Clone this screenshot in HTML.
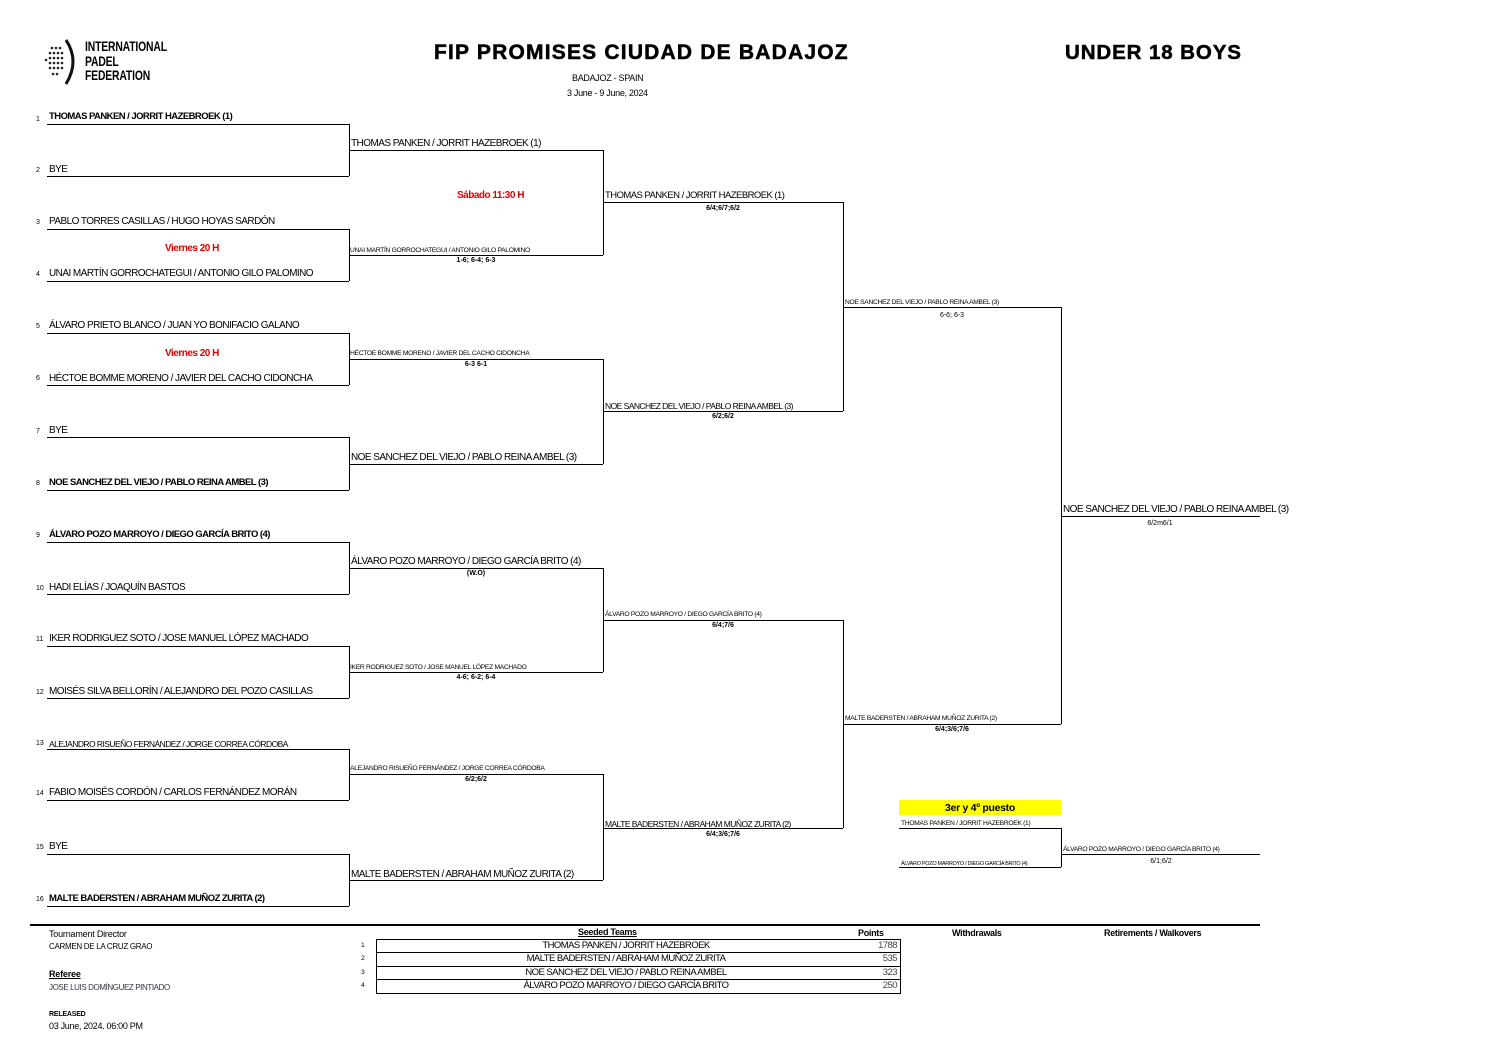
<!DOCTYPE html>
<html><head><meta charset="utf-8"><style>
body{margin:0;background:#fff;width:1497px;height:1058px;position:relative;overflow:hidden;font-family:"Liberation Sans",Arial,sans-serif;color:#000}
.h{position:absolute;height:0;border-top:1px solid #000}
.v{position:absolute;width:0;border-left:1px solid #000}
.t{position:absolute;white-space:nowrap;font-size:10px;line-height:12px;letter-spacing:-0.55px}
.s{position:absolute;white-space:nowrap;font-size:6.7px;line-height:8px;letter-spacing:-0.3px}
.n{position:absolute;font-size:7px;left:36px}
.c{position:absolute;font-size:7px;font-weight:bold;text-align:center;width:120px}
.b{font-weight:bold}
.r{position:absolute;color:#e00000;font-weight:bold;font-size:10px;letter-spacing:-0.5px}
</style></head><body>
<!-- header -->
<div style="position:absolute;left:44px;top:38px;width:34px;height:46px">
<svg width="36" height="48"><g fill="#222"><circle cx="8" cy="10" r="1.3"/><circle cx="12" cy="10" r="1.3"/><circle cx="16" cy="10" r="1.3"/><circle cx="6" cy="15" r="1.3"/><circle cx="10" cy="15" r="1.3"/><circle cx="14" cy="15" r="1.3"/><circle cx="18" cy="15" r="1.3"/><circle cx="6" cy="20" r="1.3"/><circle cx="10" cy="20" r="1.3"/><circle cx="14" cy="20" r="1.3"/><circle cx="18" cy="20" r="1.3"/><circle cx="6" cy="25" r="1.3"/><circle cx="10" cy="25" r="1.3"/><circle cx="14" cy="25" r="1.3"/><circle cx="18" cy="25" r="1.3"/><circle cx="6" cy="30" r="1.3"/><circle cx="10" cy="30" r="1.3"/><circle cx="14" cy="30" r="1.3"/><circle cx="18" cy="30" r="1.3"/><circle cx="9" cy="36" r="1.3"/><circle cx="13" cy="36" r="1.3"/><circle cx="2" cy="22" r="1.3"/></g><path d="M22 2 Q36 23 22 46" stroke="#111" stroke-width="3" fill="none"/></svg></div>
<div style="position:absolute;left:85px;top:39px;font-size:14px;line-height:14.5px;font-weight:bold;transform:scaleX(0.74);transform-origin:left;letter-spacing:-0.2px">INTERNATIONAL<br>PADEL<br>FEDERATION</div>
<div style="position:absolute;left:434px;top:41px;font-size:21px;font-weight:bold;letter-spacing:1.2px;-webkit-text-stroke:0.5px #000">FIP PROMISES CIUDAD DE BADAJOZ</div>
<div style="position:absolute;left:1065px;top:41px;font-size:20.5px;font-weight:bold;letter-spacing:0.9px;-webkit-text-stroke:0.5px #000">UNDER 18 BOYS</div>
<div class="t" style="left:572px;top:72px;font-size:9px;letter-spacing:-0.3px">BADAJOZ - SPAIN</div>
<div class="t" style="left:567px;top:87px;font-size:9px;letter-spacing:-0.3px">3 June - 9 June, 2024</div>

<!-- round 1 lines -->
<div class="h" style="left:47px;width:302px;top:124px"></div>
<div class="h" style="left:47px;width:302px;top:176px"></div>
<div class="h" style="left:47px;width:302px;top:229px"></div>
<div class="h" style="left:47px;width:302px;top:281px"></div>
<div class="h" style="left:47px;width:302px;top:333px"></div>
<div class="h" style="left:47px;width:302px;top:385px"></div>
<div class="h" style="left:47px;width:302px;top:437px"></div>
<div class="h" style="left:47px;width:302px;top:490px"></div>
<div class="h" style="left:47px;width:302px;top:542px"></div>
<div class="h" style="left:47px;width:302px;top:594px"></div>
<div class="h" style="left:47px;width:302px;top:646px"></div>
<div class="h" style="left:47px;width:302px;top:698px"></div>
<div class="h" style="left:47px;width:302px;top:749px"></div>
<div class="h" style="left:47px;width:302px;top:800px"></div>
<div class="h" style="left:47px;width:302px;top:854px"></div>
<div class="h" style="left:47px;width:302px;top:906px"></div>
<div class="v" style="left:349px;top:124px;height:52px"></div>
<div class="v" style="left:349px;top:229px;height:52px"></div>
<div class="v" style="left:349px;top:333px;height:52px"></div>
<div class="v" style="left:349px;top:437px;height:53px"></div>
<div class="v" style="left:349px;top:542px;height:52px"></div>
<div class="v" style="left:349px;top:646px;height:52px"></div>
<div class="v" style="left:349px;top:749px;height:51px"></div>
<div class="v" style="left:349px;top:854px;height:52px"></div>

<div class="n" style="top:116px">1</div><div class="t b" style="left:49px;top:111px;font-size:9.5px">THOMAS PANKEN / JORRIT HAZEBROEK (1)</div>
<div class="n" style="top:167px">2</div><div class="t" style="left:49px;top:164px">BYE</div>
<div class="n" style="top:219px">3</div><div class="t" style="left:49px;top:216px">PABLO TORRES CASILLAS / HUGO HOYAS SARDÓN</div>
<div class="n" style="top:271px">4</div><div class="t" style="left:49px;top:268px">UNAI MARTÍN GORROCHATEGUI / ANTONIO GILO PALOMINO</div>
<div class="n" style="top:323px">5</div><div class="t" style="left:49px;top:320px">ÁLVARO PRIETO BLANCO / JUAN YO BONIFACIO GALANO</div>
<div class="n" style="top:375px">6</div><div class="t" style="left:49px;top:373px">HÉCTOE BOMME MORENO / JAVIER DEL CACHO CIDONCHA</div>
<div class="n" style="top:428px">7</div><div class="t" style="left:49px;top:425px">BYE</div>
<div class="n" style="top:480px">8</div><div class="t b" style="left:49px;top:477px;font-size:9.5px">NOE SANCHEZ DEL VIEJO / PABLO REINA AMBEL (3)</div>
<div class="n" style="top:532px">9</div><div class="t b" style="left:49px;top:529px;font-size:9.5px">ÁLVARO POZO MARROYO / DIEGO GARCÍA BRITO (4)</div>
<div class="n" style="top:585px">10</div><div class="t" style="left:49px;top:582px">HADI ELÍAS / JOAQUÍN BASTOS</div>
<div class="n" style="top:636px">11</div><div class="t" style="left:49px;top:633px">IKER RODRIGUEZ SOTO / JOSE MANUEL LÓPEZ MACHADO</div>
<div class="n" style="top:689px">12</div><div class="t" style="left:49px;top:686px">MOISÉS SILVA BELLORÍN / ALEJANDRO DEL POZO CASILLAS</div>
<div class="n" style="top:740px">13</div><div class="t" style="left:49px;top:738px;font-size:8.5px">ALEJANDRO RISUEÑO FERNÁNDEZ / JORGE CORREA CÓRDOBA</div>
<div class="n" style="top:790px">14</div><div class="t" style="left:49px;top:787px">FABIO MOISÉS CORDÓN / CARLOS FERNÁNDEZ MORÁN</div>
<div class="n" style="top:844px">15</div><div class="t" style="left:49px;top:841px">BYE</div>
<div class="n" style="top:896px">16</div><div class="t b" style="left:49px;top:893px;font-size:9.5px">MALTE BADERSTEN / ABRAHAM MUÑOZ ZURITA (2)</div>

<div class="r" style="left:165px;top:243px">Viernes 20 H</div>
<div class="r" style="left:165px;top:348px">Viernes 20 H</div>
<div class="r" style="left:457px;top:190px">Sábado 11:30 H</div>

<!-- round 2 -->
<div class="h" style="left:349px;width:254px;top:150px"></div>
<div class="h" style="left:349px;width:254px;top:255px"></div>
<div class="h" style="left:349px;width:254px;top:359px"></div>
<div class="h" style="left:349px;width:254px;top:464px"></div>
<div class="h" style="left:349px;width:254px;top:568px"></div>
<div class="h" style="left:349px;width:254px;top:672px"></div>
<div class="h" style="left:349px;width:254px;top:774px"></div>
<div class="h" style="left:349px;width:254px;top:880px"></div>
<div class="v" style="left:603px;top:150px;height:105px"></div>
<div class="v" style="left:603px;top:359px;height:105px"></div>
<div class="v" style="left:603px;top:568px;height:104px"></div>
<div class="v" style="left:603px;top:774px;height:106px"></div>
<div class="t" style="left:351px;top:138px">THOMAS PANKEN / JORRIT HAZEBROEK (1)</div>
<div class="s" style="left:350px;top:247px">UNAI MARTÍN GORROCHATEGUI / ANTONIO GILO PALOMINO</div>
<div class="c" style="left:416px;top:257px">1-6; 6-4; 6-3</div>
<div class="s" style="left:350px;top:350px">HÉCTOE BOMME MORENO / JAVIER DEL CACHO CIDONCHA</div>
<div class="c" style="left:416px;top:361px">6-3 6-1</div>
<div class="t" style="left:351px;top:452px">NOE SANCHEZ DEL VIEJO / PABLO REINA AMBEL (3)</div>
<div class="t" style="left:351px;top:556px">ÁLVARO POZO MARROYO / DIEGO GARCÍA BRITO (4)</div>
<div class="c" style="left:416px;top:570px">(W.O)</div>
<div class="s" style="left:350px;top:664px">IKER RODRIGUEZ SOTO / JOSE MANUEL LÓPEZ MACHADO</div>
<div class="c" style="left:416px;top:674px">4-6; 6-2; 6-4</div>
<div class="s" style="left:350px;top:765px">ALEJANDRO RISUEÑO FERNÁNDEZ / JORGE CORREA CÓRDOBA</div>
<div class="c" style="left:416px;top:776px">6/2;6/2</div>
<div class="t" style="left:351px;top:869px">MALTE BADERSTEN / ABRAHAM MUÑOZ ZURITA (2)</div>

<!-- round 3 -->
<div class="h" style="left:603px;width:240px;top:202px"></div>
<div class="h" style="left:603px;width:240px;top:411px"></div>
<div class="h" style="left:603px;width:240px;top:620px"></div>
<div class="h" style="left:603px;width:240px;top:828px"></div>
<div class="v" style="left:843px;top:202px;height:209px"></div>
<div class="v" style="left:843px;top:620px;height:208px"></div>
<div class="t" style="left:605px;top:190px;font-size:9.5px">THOMAS PANKEN / JORRIT HAZEBROEK (1)</div>
<div class="c" style="left:663px;top:205px">6/4;6/7;6/2</div>
<div class="t" style="left:605px;top:400px;font-size:8.5px">NOE SANCHEZ DEL VIEJO / PABLO REINA AMBEL (3)</div>
<div class="c" style="left:663px;top:413px">6/2;6/2</div>
<div class="s" style="left:605px;top:611px">ÁLVARO POZO MARROYO / DIEGO GARCÍA BRITO (4)</div>
<div class="c" style="left:663px;top:622px">6/4;7/6</div>
<div class="t" style="left:605px;top:818px;font-size:8.5px">MALTE BADERSTEN / ABRAHAM MUÑOZ ZURITA (2)</div>
<div class="c" style="left:663px;top:831px">6/4;3/6;7/6</div>

<!-- semis -->
<div class="h" style="left:843px;width:218px;top:307px"></div>
<div class="h" style="left:843px;width:218px;top:724px"></div>
<div class="v" style="left:1061px;top:307px;height:417px"></div>
<div class="s" style="left:845px;top:299px">NOE SANCHEZ DEL VIEJO / PABLO REINA AMBEL (3)</div>
<div class="c" style="left:892px;top:312px;font-weight:normal">6-6; 6-3</div>
<div class="s" style="left:845px;top:715px">MALTE BADERSTEN / ABRAHAM MUÑOZ ZURITA (2)</div>
<div class="c" style="left:892px;top:726px">6/4;3/6;7/6</div>

<!-- final -->
<div class="h" style="left:1061px;width:199px;top:516px"></div>
<div class="t" style="left:1063px;top:504px">NOE SANCHEZ DEL VIEJO / PABLO REINA AMBEL (3)</div>
<div class="c" style="left:1100px;top:520px;font-weight:normal">6/2m6/1</div>

<!-- 3rd place -->
<div style="position:absolute;left:899px;top:800px;width:162px;height:15px;background:#ffff00;font-size:10.5px;font-weight:bold;text-align:center;line-height:16px;letter-spacing:-0.3px">3er y 4º puesto</div>
<div class="h" style="left:899px;width:162px;top:828px"></div>
<div class="h" style="left:899px;width:162px;top:867px"></div>
<div class="v" style="left:1061px;top:828px;height:39px"></div>
<div class="h" style="left:1061px;width:199px;top:854px"></div>
<div class="s" style="left:901px;top:820px">THOMAS PANKEN / JORRIT HAZEBROEK (1)</div>
<div class="s" style="left:901px;top:860px;font-size:5.5px">ÁLVARO POZO MARROYO / DIEGO GARCÍA BRITO (4)</div>
<div class="s" style="left:1063px;top:846px">ÁLVARO POZO MARROYO / DIEGO GARCÍA BRITO (4)</div>
<div class="c" style="left:1101px;top:858px;font-weight:normal">6/1;6/2</div>

<!-- footer -->
<div style="position:absolute;left:30px;top:924px;width:1230px;height:2px;background:#000"></div>
<div class="t" style="left:49px;top:928px;font-size:9px;letter-spacing:-0.2px">Tournament Director</div>
<div class="t" style="left:49px;top:941px;font-size:8px;letter-spacing:-0.3px">CARMEN DE LA CRUZ GRAO</div>
<div class="t" style="left:49px;top:968px;font-size:9px;font-weight:bold;text-decoration:underline;letter-spacing:-0.2px">Referee</div>
<div class="t" style="left:49px;top:982px;font-size:8px;color:#334;letter-spacing:-0.4px">JOSE LUIS DOMÍNGUEZ PINTIADO</div>
<div class="t" style="left:49px;top:1009px;font-size:7px;font-weight:bold;letter-spacing:-0.2px">RELEASED</div>
<div class="t" style="left:49px;top:1020px;font-size:9px;letter-spacing:-0.3px">03 June, 2024. 06:00 PM</div>
<div class="t" style="left:578px;top:926px;font-size:9px;font-weight:bold;text-decoration:underline;letter-spacing:-0.3px">Seeded Teams</div>
<div class="t" style="left:858px;top:927px;font-size:9px;font-weight:bold;letter-spacing:-0.3px">Points</div>
<div class="t" style="left:952px;top:927px;font-size:9px;font-weight:bold;letter-spacing:-0.3px">Withdrawals</div>
<div class="t" style="left:1104px;top:927px;font-size:9px;font-weight:bold;letter-spacing:-0.3px">Retirements / Walkovers</div>
<div style="position:absolute;left:376px;top:939px;width:523px;height:53px;border:1px solid #000"></div>
<div class="h" style="left:376px;width:524px;top:952px"></div>
<div class="h" style="left:376px;width:524px;top:966px"></div>
<div class="h" style="left:376px;width:524px;top:979px"></div>
<div class="s" style="left:361px;top:942px">1</div><div class="t" style="left:376px;width:500px;text-align:center;top:940px;font-size:9.5px">THOMAS PANKEN / JORRIT HAZEBROEK</div><div class="t" style="left:860px;width:37px;text-align:right;top:940px;font-size:9.5px;color:#444">1788</div>
<div class="s" style="left:361px;top:955px">2</div><div class="t" style="left:376px;width:500px;text-align:center;top:953px;font-size:9.5px">MALTE BADERSTEN / ABRAHAM MUÑOZ ZURITA</div><div class="t" style="left:860px;width:37px;text-align:right;top:953px;font-size:9.5px;color:#444">535</div>
<div class="s" style="left:361px;top:969px">3</div><div class="t" style="left:376px;width:500px;text-align:center;top:967px;font-size:9.5px">NOE SANCHEZ DEL VIEJO / PABLO REINA AMBEL</div><div class="t" style="left:860px;width:37px;text-align:right;top:967px;font-size:9.5px;color:#444">323</div>
<div class="s" style="left:361px;top:982px">4</div><div class="t" style="left:376px;width:500px;text-align:center;top:980px;font-size:9.5px">ÁLVARO POZO MARROYO / DIEGO GARCÍA BRITO</div><div class="t" style="left:860px;width:37px;text-align:right;top:980px;font-size:9.5px;color:#444">250</div>
</body></html>
